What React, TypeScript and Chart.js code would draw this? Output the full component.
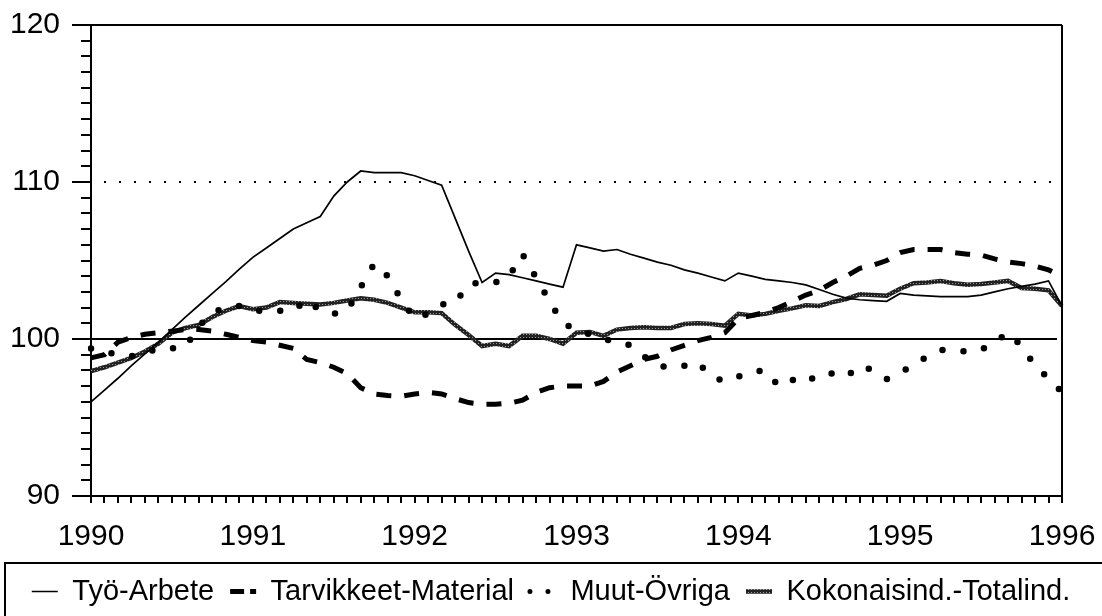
import React, { useEffect, useRef } from 'react';
import { Chart, registerables } from 'chart.js';

Chart.register(...registerables);

const yearLabels = ['1990', '1991', '1992', '1993', '1994', '1995', '1996'];
const monthsPerYear = 12;
const monthLabels: string[] = [];
yearLabels.forEach((yr, i) => {
  const count = i < yearLabels.length - 1 ? monthsPerYear : 1;
  for (let m = 1; m <= count; m++) monthLabels.push(`${yr}-${String(m).padStart(2, '0')}`);
});

const tyoArbete = [
  96.0, 96.75, 97.5, 98.3, 99.05, 99.8, 100.6, 101.4, 102.15, 102.9, 103.65, 104.45,
  105.2, 105.8, 106.4, 107.0, 107.4, 107.8, 109.1, 110.0, 110.7, 110.6, 110.6, 110.6,
  110.4, 110.1, 109.8, 107.7, 105.6, 103.6, 104.2, 104.1, 103.9, 103.7, 103.5, 103.3,
  106.0, 105.8, 105.6, 105.7, 105.4, 105.15, 104.9, 104.7, 104.4, 104.2, 103.95, 103.7,
  104.2, 104.0, 103.8, 103.7, 103.6, 103.45, 103.15, 102.85, 102.6, 102.5, 102.45, 102.4,
  102.9, 102.8, 102.75, 102.7, 102.7, 102.7, 102.8, 103.0, 103.2, 103.35, 103.5, 103.7,
  102.1,
];

const tarvikkeetMaterial = [
  98.8, 99.0, 99.8, 100.1, 100.3, 100.4, 100.5, 100.6, 100.6, 100.5, 100.3, 100.1,
  99.9, 99.8, 99.6, 99.4, 98.7, 98.5, 98.2, 97.8, 96.9, 96.5, 96.4, 96.35,
  96.5, 96.6, 96.5, 96.2, 95.95, 95.85, 95.85, 95.9, 96.1, 96.6, 96.9, 97.0,
  97.0, 97.0, 97.3, 97.9, 98.3, 98.7, 98.9, 99.3, 99.6, 99.9, 100.1, 100.4,
  101.3, 101.5, 101.7, 102.0, 102.4, 102.8, 103.1, 103.6, 104.0, 104.5, 104.7, 105.0,
  105.5, 105.7, 105.7, 105.7, 105.5, 105.4, 105.35, 105.1, 104.9, 104.8, 104.65, 104.4,
  104.0,
];

const muutOvriga = [
  99.4, 99.2, 99.0, 98.9, 99.1, 99.4, 99.4, 99.5, 100.8, 101.7, 102.0, 102.1,
  101.8, 101.8, 101.8, 101.8, 102.5, 101.8, 101.6, 101.8, 103.3, 104.8, 104.0, 102.5,
  101.3, 101.6, 102.2, 102.3, 103.5, 103.6, 103.6, 104.0, 105.4, 103.9, 102.4, 101.0,
  100.6, 100.3, 100.0, 99.8, 99.6, 98.9, 98.3, 98.2, 98.3, 98.5, 97.6, 97.3,
  97.6, 97.9, 98.0, 97.0, 97.4, 97.2, 97.8, 97.8, 97.6, 98.3, 98.0, 97.45,
  97.9, 98.3, 98.9, 99.3, 99.25, 99.2, 99.3, 99.8, 100.4, 99.55, 98.3, 97.5,
  96.6,
];

const kokonaisTotal = [
  97.95, 98.2, 98.5, 98.8, 99.2, 99.7, 100.4, 100.7, 100.9, 101.4, 101.8, 102.1,
  101.9, 102.0, 102.35, 102.3, 102.25, 102.2, 102.3, 102.45, 102.6, 102.5, 102.3, 102.0,
  101.7, 101.7, 101.65, 100.9, 100.25, 99.55, 99.7, 99.55, 100.2, 100.2, 100.0, 99.7,
  100.4, 100.45, 100.2, 100.6, 100.7, 100.75, 100.7, 100.7, 100.95, 101.0, 100.95, 100.85,
  101.6, 101.5, 101.6, 101.8, 101.95, 102.15, 102.1, 102.35, 102.55, 102.85, 102.8, 102.75,
  103.2, 103.55, 103.6, 103.7, 103.55, 103.45, 103.5, 103.6, 103.7, 103.25, 103.2, 103.1,
  102.1,
];

const seriesNames = ['Työ-Arbete', 'Tarvikkeet-Material', 'Muut-Övriga', 'Kokonaisind.-Totalind.'];

const yMin = 90;
const yMax = 120;
const yMinorStep = 1;
const yMajorStep = 10;
const baseLevel = 100;
const dottedLevel = 110;

const FONT = '"Liberation Sans", Arial, Helvetica, sans-serif';

const legendDashes: number[][] = [[], [14, 6, 6, 100], [0, 18, 0, 100], []];

const framePlugin = {
  id: 'frame',
  beforeDatasetsDraw(chart: any) {
    const { ctx, chartArea, scales } = chart;
    const { left, right } = chartArea;
    const y = scales.y;
    ctx.save();
    ctx.strokeStyle = '#000';
    ctx.lineWidth = 2;
    const yb = y.getPixelForValue(baseLevel);
    ctx.beginPath();
    ctx.moveTo(left, yb);
    ctx.lineTo(right - 5, yb);
    ctx.stroke();
    const yd = y.getPixelForValue(dottedLevel);
    ctx.setLineDash([2, 13]);
    ctx.lineDashOffset = -13;
    ctx.beginPath();
    ctx.moveTo(left, yd);
    ctx.lineTo(right - 5, yd);
    ctx.stroke();
    ctx.restore();
  },
  afterDraw(chart: any) {
    const { ctx, chartArea, scales, legend } = chart;
    const { left, right, top, bottom } = chartArea;
    const y = scales.y;
    ctx.save();
    ctx.strokeStyle = '#000';
    ctx.lineWidth = 2;
    ctx.beginPath();
    ctx.moveTo(left - 19, top);
    ctx.lineTo(right, top);
    ctx.moveTo(right, top);
    ctx.lineTo(right, bottom + 7);
    ctx.stroke();
    for (let v = yMin; v <= yMax; v += yMajorStep) {
      const py = y.getPixelForValue(v);
      ctx.beginPath();
      ctx.moveTo(left - 19, py);
      ctx.lineTo(left, py);
      ctx.stroke();
    }
    if (legend) {
      ctx.lineWidth = 2;
      ctx.strokeRect(5, legend.top + 2, chart.width + 10, chart.height);
    }
    ctx.restore();
  },
};

export default function App() {
  const canvasRef = useRef<HTMLCanvasElement | null>(null);

  useEffect(() => {
    const canvas = canvasRef.current;
    if (!canvas) return;
    const ctx = canvas.getContext('2d') as CanvasRenderingContext2D;

    const pc = document.createElement('canvas');
    pc.width = 3;
    pc.height = 3;
    const pg = pc.getContext('2d') as CanvasRenderingContext2D;
    pg.fillStyle = '#222';
    pg.fillRect(0, 0, 3, 3);
    pg.fillStyle = '#999';
    pg.fillRect(1, 1, 1, 1);
    const totalPattern = ctx.createPattern(pc, 'repeat') as CanvasPattern;

    const chart = new Chart(ctx, {
      type: 'line',
      data: {
        labels: monthLabels,
        datasets: [
          {
            label: seriesNames[0],
            data: tyoArbete,
            borderColor: '#000',
            backgroundColor: 'transparent',
            borderWidth: 1.7,
            pointRadius: 0,
            tension: 0,
          },
          {
            label: seriesNames[1],
            data: tarvikkeetMaterial,
            borderColor: '#000',
            backgroundColor: 'transparent',
            borderWidth: 5,
            borderDash: [15, 13],
            pointRadius: 0,
            tension: 0,
          },
          {
            label: seriesNames[2],
            data: muutOvriga,
            borderColor: '#000',
            backgroundColor: 'transparent',
            borderWidth: 6.5,
            borderDash: [0, 21],
            borderCapStyle: 'round',
            pointRadius: 0,
            tension: 0,
          },
          {
            label: seriesNames[3],
            data: kokonaisTotal,
            borderColor: totalPattern as any,
            backgroundColor: 'transparent',
            borderWidth: 4.5,
            pointRadius: 0,
            tension: 0,
          },
        ],
      },
      options: {
        animation: false,
        responsive: false,
        devicePixelRatio: 1,
        layout: { padding: { top: 25, left: 0, right: 0, bottom: 0 } },
        plugins: {
          tooltip: { enabled: false },
          legend: {
            position: 'bottom',
            labels: {
              boxWidth: 26,
              boxHeight: 0,
              padding: 16,
              color: '#000',
              font: { family: FONT, size: 29 },
              generateLabels: (c: any) => {
                const items = Chart.defaults.plugins.legend.labels.generateLabels(c);
                items.forEach((it: any, i: number) => {
                  it.lineDash = legendDashes[i];
                  it.fillStyle = 'transparent';
                  if (i === 2) it.lineWidth = 5;
                });
                return items;
              },
            },
          },
        },
        scales: {
          x: {
            type: 'category',
            offset: false,
            grid: { drawOnChartArea: false, drawTicks: true, tickLength: 7, color: '#000', lineWidth: 2, offset: false },
            border: { display: true, color: '#000', width: 2 },
            ticks: {
              autoSkip: false,
              maxRotation: 0,
              minRotation: 0,
              padding: 16,
              color: '#000',
              font: { family: FONT, size: 30 },
              callback: (_v: any, i: number) => (i % monthsPerYear === 0 ? yearLabels[i / monthsPerYear] : ''),
            },
            afterFit: (s: any) => {
              s.height = 65;
              s.paddingRight = 40;
            },
          },
          y: {
            min: yMin,
            max: yMax,
            grid: { drawOnChartArea: false, drawTicks: true, tickLength: 10, color: '#000', lineWidth: 2 },
            border: { display: true, color: '#000', width: 2 },
            ticks: {
              stepSize: yMinorStep,
              autoSkip: false,
              maxTicksLimit: 100,
              padding: 21,
              color: '#000',
              font: { family: FONT, size: 30 },
              callback: (v: any) => (Number(v) % yMajorStep === 0 ? String(v) : ''),
            },
            afterFit: (s: any) => {
              s.width = 91;
              s.paddingTop = 0;
              s.paddingBottom = 0;
            },
          },
        },
      },
      plugins: [framePlugin],
    } as any);

    return () => chart.destroy();
  }, []);

  return (
    <div style={{ position: 'absolute', left: 0, top: 0, width: 1102, height: 616, background: '#fff' }}>
      <canvas ref={canvasRef} width={1102} height={616} style={{ display: 'block' }} />
    </div>
  );
}
